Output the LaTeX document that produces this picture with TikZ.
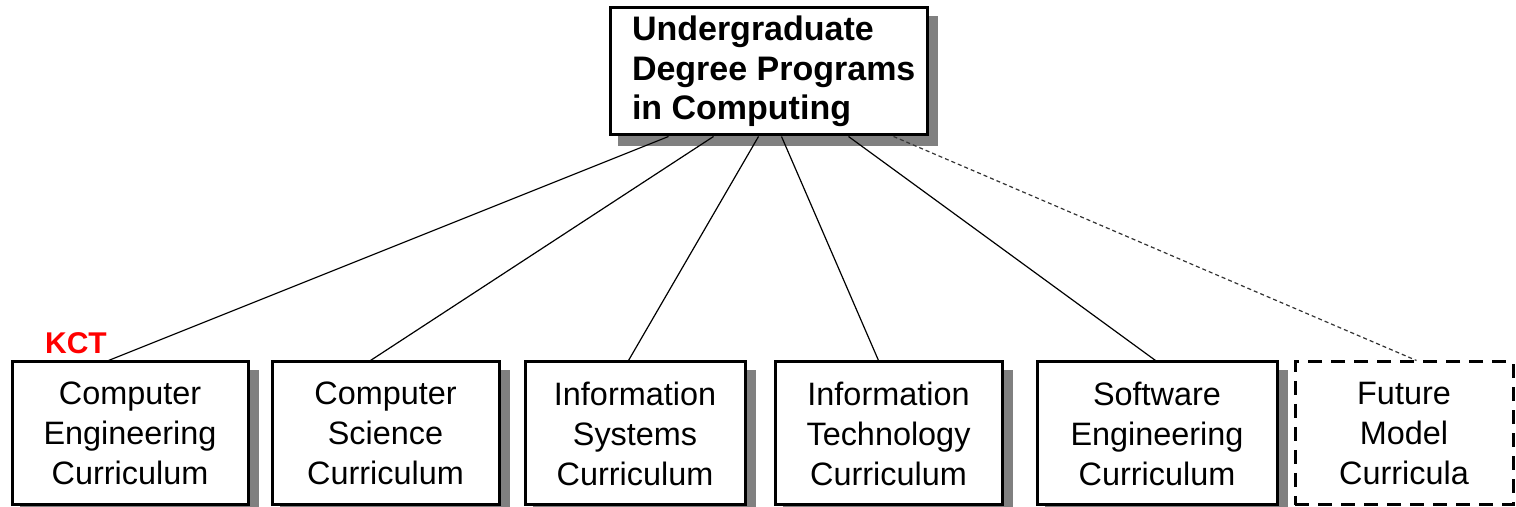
\documentclass[tikz,border=0pt]{standalone}
\usepackage{fontspec}
\setmainfont{Liberation Sans}
\usetikzlibrary{calc}
\pgfdeclarelayer{background}
\pgfsetlayers{background,main}
\newcommand{\indentln}{\hspace*{11pt}}
\begin{document}
\begin{tikzpicture}[x=0.5pt,y=-0.5pt,
  box/.style={draw, line width=1.5pt, fill=white, inner sep=0pt, align=center,
    minimum height=71.5pt, font=\fontsize{16.2}{20}\selectfont},
  shadowfill/.style={fill=black!50},
  link/.style={line width=0.6pt},
  future/.style={line width=0.6pt, dash pattern=on 2pt off 1.5pt, draw=black!80},
  dashbox/.style={dash pattern=on 7pt off 4.5pt}]
\useasboundingbox (0,0) rectangle (1516,507);

\node[box, text width=158.5pt, inner xsep=0pt, minimum height=63.5pt, align=flush left,
  font=\bfseries\fontsize{17}{19.75}\selectfont] (top) at (768.5,71.5)
  {\indentln Undergraduate\\\indentln Degree Programs\\\indentln in Computing};

\node[box, minimum width=118pt]   (b1) at (130,433.5)   {Computer\\Engineering\\Curriculum};
\node[box, minimum width=113.5pt] (b2) at (385.5,433.5) {Computer\\Science\\Curriculum};
\node[box, minimum width=110pt]   (b3) at (635,433.5)   {Information\\Systems\\Curriculum};
\node[box, minimum width=113.5pt] (b4) at (888.5,433.5) {Information\\Technology\\Curriculum};
\node[box, minimum width=120pt]   (b5) at (1157,433.5)  {Software\\Engineering\\Curriculum};
\node[box, dashbox, minimum width=109pt] (b6) at (1404,433.5) {Future\\Model\\Curricula};

\node[text=red, font=\bfseries\fontsize{15}{18}\selectfont] (kct) at (76,343) {KCT};

\coordinate (t1) at ($(top.south west)+(60,0)$);
\coordinate (t2) at ($(top.south west)+(105,0)$);
\coordinate (t3) at ($(top.south west)+(150,0)$);
\coordinate (t4) at ($(top.south west)+(173,0)$);
\coordinate (t5) at ($(top.south west)+(240,0)$);
\coordinate (t6) at ($(top.south west)+(285,0)$);
\coordinate (e1) at ($(b1.north west)+(98,0)$);
\coordinate (e2) at ($(b2.north west)+(100,0)$);
\coordinate (e3) at ($(b3.north west)+(105,0)$);
\coordinate (e4) at ($(b4.north west)+(105,0)$);
\coordinate (e5) at ($(b5.north west)+(120,0)$);
\coordinate (e6) at ($(b6.north west)+(123,0)$);

\begin{pgfonlayer}{background}
\foreach \n in {top,b1,b2,b3,b4,b5}
  \fill[shadowfill] ($(\n.north west)+(9,10)$) rectangle ($(\n.south east)+(9,10)$);
\draw[link] (t1) -- (e1);
\draw[link] (t2) -- (e2);
\draw[link] (t3) -- (e3);
\draw[link] (t4) -- (e4);
\draw[link] (t5) -- (e5);
\draw[future] (t6) -- (e6);
\end{pgfonlayer}
\end{tikzpicture}
\end{document}
